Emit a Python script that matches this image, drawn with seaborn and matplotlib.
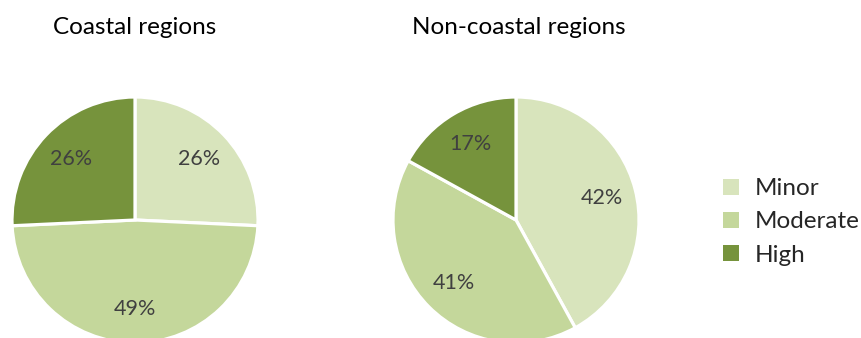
import matplotlib
matplotlib.use("Agg")
import matplotlib.pyplot as plt
import seaborn as sns

categories = ["Minor", "Moderate", "High"]
coastal = [26, 49, 26]
non_coastal = [42, 41, 17]
titles = ["Coastal regions", "Non-coastal regions"]

sns.set_theme(style="white")
plt.rcParams["font.family"] = ["Lato", "DejaVu Sans"]
palette = sns.color_palette(["#d8e4bc", "#c4d79b", "#76933c"])

W, H = 861, 338
fig = plt.figure(figsize=(W / 100, H / 100), dpi=100)

# pixel geometry of each pie: centre x, centre y (from top), radius
pies = [(135, 220, 123, coastal), (516, 220, 123, non_coastal)]

for (cx, cy, r, vals), title in zip(pies, titles):
    ax = fig.add_axes([(cx - r) / W, (H - cy - r) / H, 2 * r / W, 2 * r / H])
    wedges, texts = ax.pie(
        vals,
        colors=palette,
        startangle=90,
        counterclock=False,
        labels=[f"{v}%" for v in vals],
        labeldistance=0.72,
        radius=1.0,
        wedgeprops=dict(edgecolor="white", linewidth=2.3),
        textprops=dict(color="#404040", fontsize=15.5),
    )
    for t in texts:
        t.set_horizontalalignment("center")
        t.set_verticalalignment("center")
    ax.set_xlim(-1, 1)
    ax.set_ylim(-1, 1)
    ax.set_aspect("equal")
    ax.axis("off")

fig.text(135 / W, 1 - 28 / H, titles[0], ha="center", va="center", fontsize=17.5, color="#000000")
fig.text(519 / W, 1 - 28 / H, titles[1], ha="center", va="center", fontsize=17.5, color="#000000")

handles = [plt.Rectangle((0, 0), 1, 1, facecolor=c, edgecolor="none") for c in palette]
fig.legend(
    handles, categories,
    loc="center left", bbox_to_anchor=(723 / W, 1 - 222 / H),
    frameon=False, fontsize=17.5, handlelength=0.65, handleheight=0.65,
    handletextpad=0.65, labelspacing=0.5, borderaxespad=0, borderpad=0,
)

fig.savefig("out.png", dpi=100)
